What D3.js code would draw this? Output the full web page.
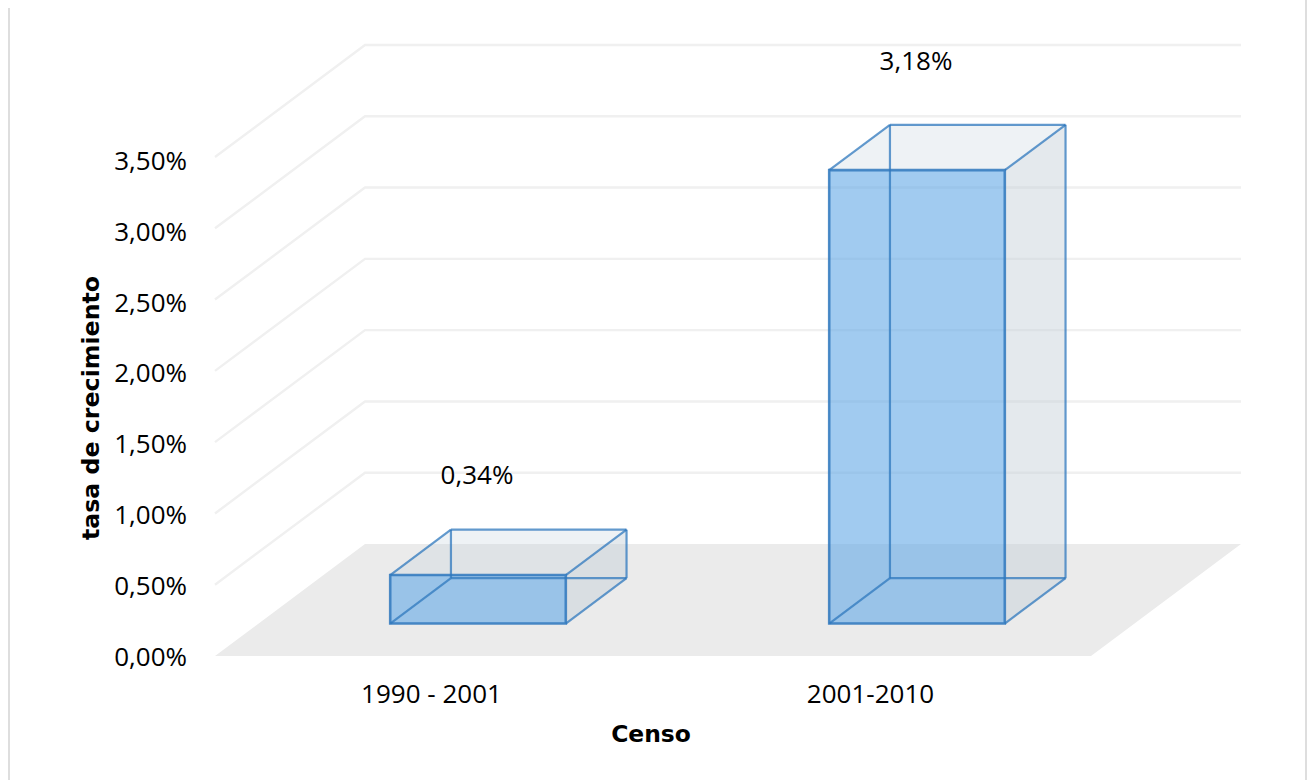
<!DOCTYPE html>
<html><head><meta charset="utf-8">
<script src="https://cdnjs.cloudflare.com/ajax/libs/d3/7.8.5/d3.min.js"></script>
<style>html,body{margin:0;padding:0;background:#fff}svg{display:block}</style>
</head><body><svg id="c" width="1309" height="780"></svg>
<script>
const categories = ["1990 - 2001", "2001-2010"];
const values = [0.34, 3.18];
const valueLabels = ["0,34%", "3,18%"];
const tickValues = [0, 0.5, 1, 1.5, 2, 2.5, 3, 3.5];
const tickLabels = ["0,00%", "0,50%", "1,00%", "1,50%", "2,00%", "2,50%", "3,00%", "3,50%"];
const xTitle = "Censo";
const yTitle = "tasa de crecimiento";

const svg = d3.select("#c");
const labelFont = "'Open Sans', sans-serif";
const titleFont = "'DejaVu Sans', sans-serif";

// panel edges
svg.append("line").attr("x1", 9).attr("x2", 9).attr("y1", 8).attr("y2", 780).attr("stroke", "#dedede").attr("stroke-width", 2);
svg.append("line").attr("x1", 1306).attr("x2", 1306).attr("y1", 0).attr("y2", 780).attr("stroke", "#dedede").attr("stroke-width", 2);

const xMin = 215, xMax = 1091;
const x = d3.scaleBand().domain(categories).range([215, 1093]).paddingInner(0.6).paddingOuter(0.3);
const y = d3.scaleLinear().domain([0, 3.5]).range([656, 157]);
const yLabels = d3.scaleLinear().domain([0, 3.5]).range([650, 154]);
const zx = d3.scaleLinear().domain([0, 1]).range([0, 150]);
const zy = d3.scaleLinear().domain([0, 1]).range([0, -112]);
const P = (px, v, z) => [px + zx(z), y(v) + zy(z)];
const poly = pts => d3.line()(pts) + "Z";

// floor
svg.append("path").attr("fill", "#ebebeb")
  .attr("d", poly([P(xMin, 0, 0), P(xMin, 0, 1), P(xMax, 0, 1), P(xMax, 0, 0)]));

// gridlines on side and back walls
const grid = svg.append("g").attr("fill", "none").attr("stroke", "#f0f0f0").attr("stroke-width", 2.4);
tickValues.slice(1).forEach(v => {
  grid.append("path").attr("d", d3.line()([P(xMin, v, 0), P(xMin, v, 1), P(xMax, v, 1)]));
});

// bars
const zFront = 0.29, zBack = 0.695;
const edge = "#2f78bd";
categories.forEach((c, i) => {
  const l = x(c), r = l + x.bandwidth(), v = values[i];
  const g = svg.append("g");
  const ftl = P(l, v, zFront), ftr = P(r, v, zFront), fbl = P(l, 0, zFront), fbr = P(r, 0, zFront);
  const btl = P(l, v, zBack), btr = P(r, v, zBack), bbl = P(l, 0, zBack), bbr = P(r, 0, zBack);
  g.append("path").attr("d", poly([ftl, btl, btr, ftr])).attr("fill", "#bbcbd7").attr("fill-opacity", 0.25);
  g.append("path").attr("d", poly([ftr, btr, bbr, fbr])).attr("fill", "#c3ced7").attr("fill-opacity", 0.45);
  g.append("path").attr("d", poly([ftl, ftr, fbr, fbl])).attr("fill", "#62a8e6").attr("fill-opacity", 0.6);
  const edges = [[btl, btr], [btr, bbr], [bbl, bbr], [btl, bbl], [fbl, bbl], [fbr, bbr], [ftl, btl], [ftr, btr]];
  edges.forEach(e => g.append("path").attr("d", d3.line()(e)).attr("fill", "none")
    .attr("stroke", edge).attr("stroke-opacity", 0.75).attr("stroke-width", 2.2));
  g.append("path").attr("d", poly([ftl, ftr, fbr, fbl])).attr("fill", "none")
    .attr("stroke", edge).attr("stroke-opacity", 0.85).attr("stroke-width", 2.6);
});

// data labels
const labelLift = [56, 65];
categories.forEach((c, i) => {
  const cx = P(x(c) + x.bandwidth() / 2, values[i], zFront)[0] - 1;
  const top = P(0, values[i], zBack)[1];
  svg.append("text").attr("x", cx).attr("y", top - labelLift[i])
    .attr("text-anchor", "middle").attr("dominant-baseline", "central")
    .attr("font-family", labelFont).attr("font-size", 26).attr("fill", "#000").text(valueLabels[i]);
});

// axes
const yAxis = d3.axisLeft(yLabels).tickValues(tickValues).tickSize(0).tickPadding(0)
  .tickFormat((d, i) => tickLabels[i]);
const gy = svg.append("g").attr("transform", "translate(187,7)").call(yAxis);
const xAxis = d3.axisBottom(x).tickSize(0).tickPadding(0);
const gx = svg.append("g").attr("transform", "translate(-3,685)").call(xAxis);
[gy, gx].forEach(a => {
  a.select(".domain").remove();
  a.selectAll("text").attr("font-family", labelFont).attr("font-size", 26).attr("fill", "#000");
});

// titles
svg.append("text").attr("x", 651).attr("y", 734).attr("text-anchor", "middle").attr("dominant-baseline", "central")
  .attr("font-family", titleFont).attr("font-weight", "bold").attr("font-size", 23.4).attr("fill", "#000").text(xTitle);
svg.append("text").attr("transform", "translate(91,408) rotate(-90)").attr("text-anchor", "middle").attr("dominant-baseline", "central")
  .attr("font-family", titleFont).attr("font-weight", "bold").attr("font-size", 23.7).attr("fill", "#000").text(yTitle);
</script></body></html>
